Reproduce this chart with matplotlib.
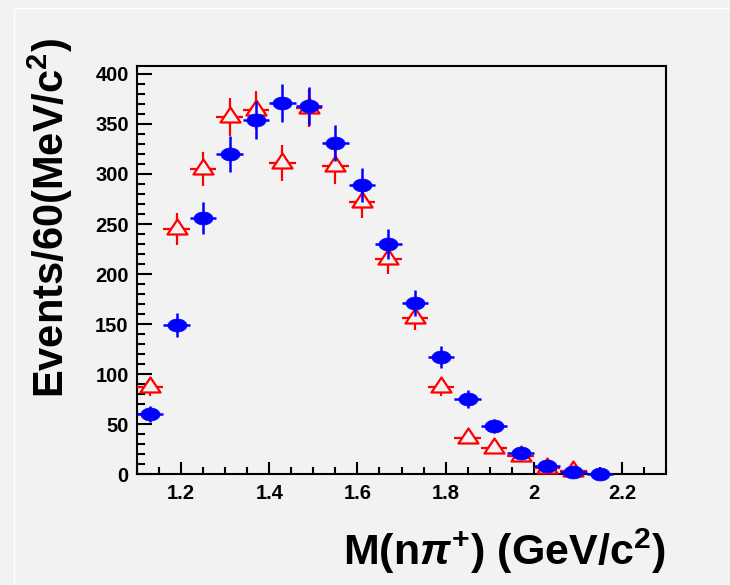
import numpy as np
import matplotlib
matplotlib.use("Agg")
import matplotlib.pyplot as plt
from matplotlib.path import Path
from matplotlib.ticker import MultipleLocator, FormatStrFormatter

# bin centres (60 MeV bins)
mass_blue = [1.13, 1.19, 1.25, 1.31, 1.37, 1.43, 1.49, 1.55, 1.61, 1.67,
             1.73, 1.79, 1.85, 1.91, 1.97, 2.03, 2.09, 2.15]
events_blue = [60, 149, 256, 320, 354, 371, 368, 331, 289, 230,
               171, 117, 75, 48, 21, 8, 2, 0]
err_blue = [8, 12, 16, 18, 19, 19, 19, 18, 17, 15, 13, 11, 9, 7, 5, 3, 1.5, 0]

mass_red = [1.13, 1.19, 1.25, 1.31, 1.37, 1.43, 1.49, 1.55, 1.61, 1.67,
            1.73, 1.79, 1.85, 1.91, 1.97, 2.03, 2.09]
events_red = [87, 245, 305, 357, 364, 311, 366, 308, 272, 215,
              156, 87, 36, 26, 18, 6, 3]
err_red = [9, 16, 17, 19, 19, 18, 19, 18, 16, 15, 12, 9, 6, 5, 4, 2.5, 1.7]

half_bin = 0.03

bg = '#f2f2f2'
plt.rcParams['mathtext.fontset'] = 'custom'
plt.rcParams['mathtext.rm'] = 'Liberation Sans:bold'
plt.rcParams['mathtext.it'] = 'Liberation Sans:italic:bold'
plt.rcParams['mathtext.bf'] = 'Liberation Sans:bold'

# the original markers look squashed (wide and flat)
t = np.linspace(0, 2 * np.pi, 60)
ellipse = Path(np.column_stack([np.cos(t), 0.68 * np.sin(t)]), closed=True)
triangle = Path([(-1, -0.5), (1, -0.5), (0, 1.0), (-1, -0.5)], closed=True)

fig = plt.figure(figsize=(7.3, 5.85), dpi=100, facecolor=bg)
ax = fig.add_axes([0.1877, 0.1897, 0.9123 - 0.1877, 0.8872 - 0.1897])
ax.set_facecolor(bg)

# pad border
fig.add_artist(plt.Rectangle((14 / 730, 0), 1, 1 - 8 / 585, transform=fig.transFigure,
                             fill=False, edgecolor='white', lw=1))

ax.errorbar(mass_red, events_red, yerr=err_red, xerr=half_bin, fmt='none',
            ecolor='red', elinewidth=1.6, capsize=0, clip_on=False, zorder=3)
ax.plot(mass_red, events_red, ls='none', marker=triangle, ms=14.4,
        mfc=bg, mec='red', mew=1.6, clip_on=False, zorder=3.5)
ax.errorbar(mass_blue, events_blue, yerr=err_blue, xerr=half_bin, fmt='none',
            ecolor='blue', elinewidth=1.8, capsize=0, clip_on=False, zorder=4)
ax.plot(mass_blue, events_blue, ls='none', marker=ellipse, ms=13.7,
        mfc='blue', mec='blue', mew=0.5, clip_on=False, zorder=4.5)

ax.set_xlim(1.1, 2.3)
ax.set_ylim(0, 408)

ax.xaxis.set_major_locator(MultipleLocator(0.2))
ax.xaxis.set_minor_locator(MultipleLocator(0.05))
ax.xaxis.set_major_formatter(FormatStrFormatter('%g'))
ax.yaxis.set_major_locator(MultipleLocator(50))
ax.yaxis.set_minor_locator(MultipleLocator(10))

ax.tick_params(axis='both', which='both', direction='in', width=1.5,
               top=False, right=False, colors='black')
ax.tick_params(axis='y', which='major', length=11, pad=6)
ax.tick_params(axis='y', which='minor', length=6)
ax.tick_params(axis='x', which='major', length=9, pad=7)
ax.tick_params(axis='x', which='minor', length=5)

for lab in ax.get_xticklabels() + ax.get_yticklabels():
    lab.set_fontfamily('Liberation Sans')
    lab.set_fontweight('bold')
    lab.set_fontsize(14.5)

for sp in ax.spines.values():
    sp.set_linewidth(1.5)

fig.text(0.9123, 1 - 565 / 585, r"M(n$\pi^{+}$) (GeV/c$^{2}$)",
         ha='right', va='baseline', fontsize=31, fontweight='bold',
         family='Liberation Sans')

fig.text(50 / 730, 1 - 218 / 585, r"Events/60(MeV/c$^{2}$)", rotation=90,
         ha='center', va='center', fontsize=30, fontweight='bold',
         family='Liberation Sans')

fig.savefig('out.png', dpi=100, facecolor=bg)
